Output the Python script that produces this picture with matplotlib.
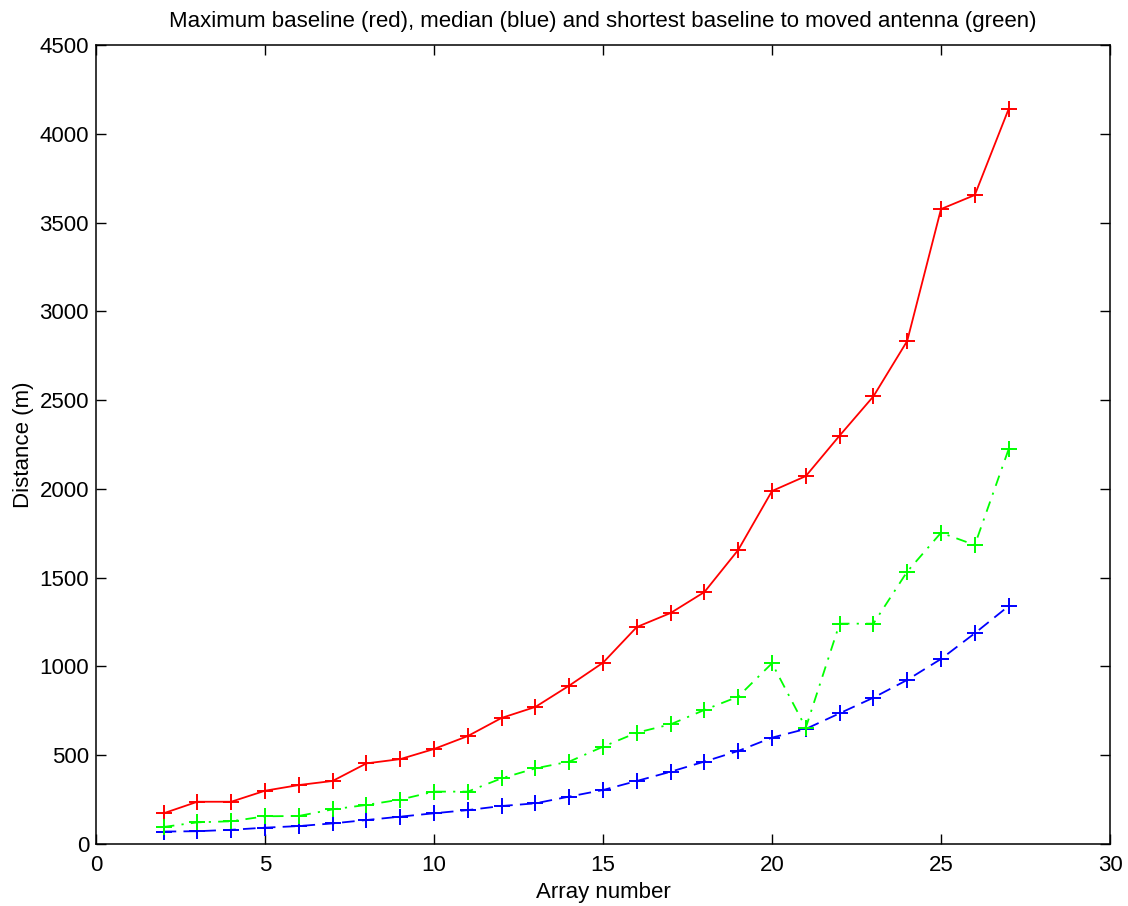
import matplotlib
matplotlib.use("Agg")
import matplotlib.pyplot as plt

plt.rcParams['font.family'] = ['Liberation Sans', 'DejaVu Sans']

array_number = [2, 3, 4, 5, 6, 7, 8, 9, 10, 11, 12, 13, 14, 15, 16, 17, 18, 19, 20, 21, 22, 23, 24, 25, 26, 27]

max_baseline = [173, 238, 238, 300, 332, 355, 454, 478, 535, 608, 710, 772, 892, 1021,
                1222, 1301, 1419, 1656, 1988, 2072, 2300, 2521, 2833, 3576, 3655, 4139]

median_baseline = [70, 72, 80, 92, 101, 116, 135, 154, 173, 191, 214, 229, 267, 304,
                   355, 407, 464, 524, 599, 648, 736, 824, 924, 1042, 1187, 1340]

shortest_moved = [96, 122, 128, 156, 158, 195, 220, 250, 295, 295, 370, 426, 464, 548,
                  627, 674, 755, 830, 1018, 655, 1241, 1241, 1534, 1753, 1684, 2223]

title = "Maximum baseline (red), median (blue) and shortest baseline to moved antenna (green)"
xlabel = "Array number"
ylabel = "Distance (m)"
xticks = [0, 5, 10, 15, 20, 25, 30]
yticks = [0, 500, 1000, 1500, 2000, 2500, 3000, 3500, 4000, 4500]

fig = plt.figure(figsize=(11.28, 9.06), dpi=100)
ax = fig.add_axes([96/1128, 1 - 844/906, (1110 - 96)/1128, (844 - 45)/906])

lw = 1.3
ms = 11
mew = 1.4
ax.plot(array_number, max_baseline, color='#ff0000', linestyle='-', marker='+',
        linewidth=lw, markersize=ms, markeredgewidth=mew)
ax.plot(array_number, median_baseline, color='#0000ff', linestyle=(0, (7, 4)), marker='+',
        linewidth=lw, markersize=ms, markeredgewidth=mew)
ax.plot(array_number, shortest_moved, color='#00ff00', linestyle=(0, (6, 4, 1.2, 4)), marker='+',
        linewidth=lw, markersize=ms, markeredgewidth=mew)

ax.set_xlim(0, 30)
ax.set_ylim(0, 4500)
ax.set_xticks(xticks)
ax.set_yticks(yticks)
ax.tick_params(direction='in', length=7, width=1, top=True, right=True, labelsize=16)
ax.tick_params(axis='x', pad=8)
ax.tick_params(axis='y', pad=5)
for s in ax.spines.values():
    s.set_linewidth(1.1)

ax.set_title(title, fontsize=16, pad=13)
ax.set_xlabel(xlabel, fontsize=16, labelpad=4)
ax.set_ylabel(ylabel, fontsize=16, labelpad=4)

fig.savefig("out.png", dpi=100)
